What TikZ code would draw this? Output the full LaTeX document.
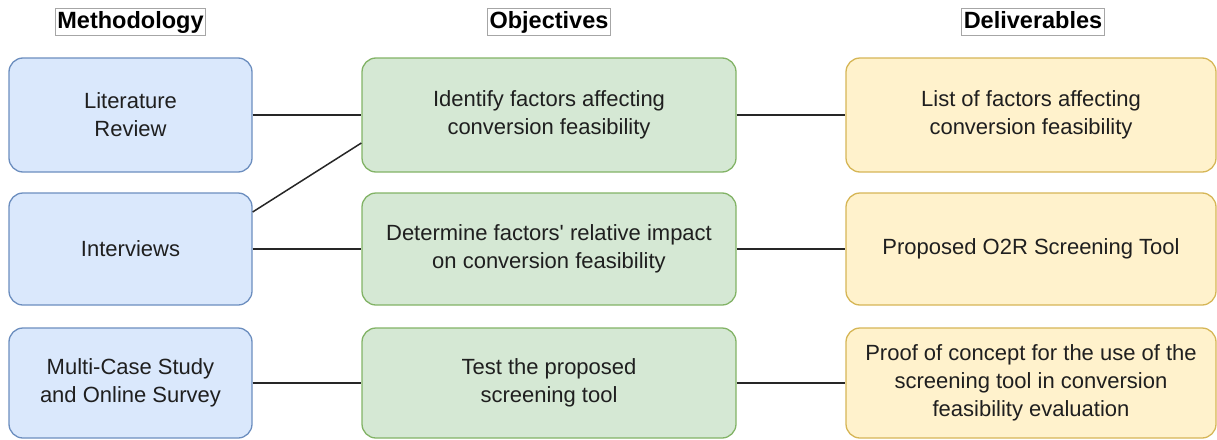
\documentclass[tikz,border=0pt]{standalone}
\usepackage{fontspec}
\setmainfont{Liberation Sans}
\begin{document}
\begin{tikzpicture}[x=1pt,y=-1pt,
  card/.style={rounded corners=14pt, line width=1.3pt, align=center,
    inner sep=0pt, text=black!88, font=\fontsize{22}{28}\selectfont},
  method/.style={card, draw={rgb,255:red,108;green,142;blue,191}, fill={rgb,255:red,218;green,232;blue,252},
    minimum width=243pt},
  objective/.style={card, draw={rgb,255:red,130;green,179;blue,102}, fill={rgb,255:red,213;green,232;blue,212},
    minimum width=374pt},
  deliverable/.style={card, draw={rgb,255:red,214;green,182;blue,86}, fill={rgb,255:red,255;green,242;blue,204},
    minimum width=370pt},
  header/.style={draw=black!35, line width=0.6pt, inner xsep=2pt, inner ysep=2.5pt,
    text height=17pt, text depth=5pt,
    font=\fontsize{23.5}{25}\selectfont\bfseries},
  link/.style={line width=1.5pt, draw=black!85}]
\useasboundingbox (0,0) rectangle (1217,439);

% column headers
\node[header] (hm) at (130.5,22) {Methodology};
\node[header] (ho) at (549,22) {Objectives};
\node[header] (hd) at (1033,22) {Deliverables};

% methodology
\node[method, minimum height=114pt] (m1) at (130.5,115) {Literature\\Review};
\node[method, minimum height=112pt] (m2) at (130.5,249) {Interviews};
\node[method, minimum height=110pt] (m3) at (130.5,383) {Multi-Case Study\\and Online Survey};

% objectives
\node[objective, minimum height=114pt] (o1) at (549,115) {Identify factors affecting\\conversion feasibility};
\node[objective, minimum height=112pt] (o2) at (549,249) {Determine factors\textquotesingle\ relative impact\\on conversion feasibility};
\node[objective, minimum height=110pt] (o3) at (549,383) {Test the proposed\\screening tool};

% deliverables
\node[deliverable, minimum height=114pt] (d1) at (1031,115) {List of factors affecting\\conversion feasibility};
\node[deliverable, minimum height=112pt] (d2) at (1031,249) {Proposed O2R Screening Tool};
\node[deliverable, minimum height=110pt] (d3) at (1031,383) {Proof of concept for the use of the\\screening tool in conversion\\feasibility evaluation};

% links
\draw[link] (m1.east) -- (o1.west);
\draw[link] ([yshift=37pt]m2.east) -- ([yshift=-28pt]o1.west);
\draw[link] (m2.east) -- (o2.west);
\draw[link] (m3.east) -- (o3.west);
\draw[link] (o1.east) -- (d1.west);
\draw[link] (o2.east) -- (d2.west);
\draw[link] (o3.east) -- (d3.west);
\end{tikzpicture}
\end{document}
